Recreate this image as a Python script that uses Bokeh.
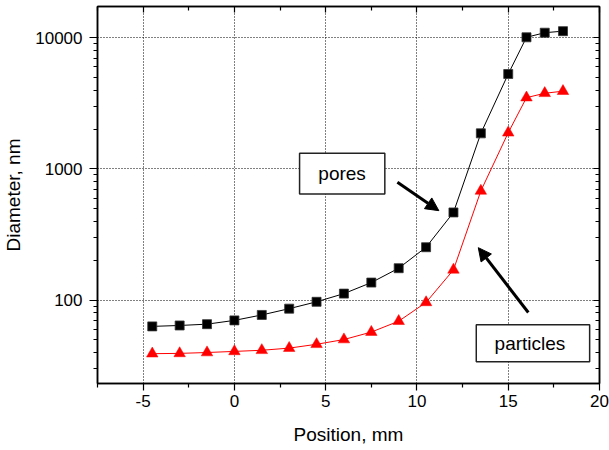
from bokeh.plotting import figure
from bokeh.models import (Range1d, FixedTicker, LinearAxis, LogAxis, Label,
                          BoxAnnotation, Arrow, NormalHead, ColumnDataSource)
from bokeh.embed import file_html
from bokeh.resources import INLINE

# ---- data ----
position = [-4.5, -3, -1.5, 0, 1.5, 3, 4.5, 6, 7.5, 9, 10.5, 12, 13.5, 15, 16, 17, 18]
pores = [63, 64, 65.5, 70, 77, 86, 97, 112, 136, 175, 253, 466, 1870, 5300, 10100, 10950, 11250]
particles = [39, 39.2, 39.8, 40.6, 41.4, 43, 46, 50, 57, 69, 96, 170, 680, 1890, 3500, 3780, 3920]

x_ticks = [-5, 0, 5, 10, 15, 20]
x_tick_labels = ["-5", "0", "5", "10", "15", "20"]
x_minor = [-7.5, -2.5, 2.5, 7.5, 12.5, 17.5]
y_ticks = [100, 1000, 10000]
y_tick_labels = ["100", "1000", "10000"]
y_minor = [30, 40, 50, 60, 70, 80, 90, 200, 300, 400, 500, 600, 700, 800, 900,
           2000, 3000, 4000, 5000, 6000, 7000, 8000, 9000]

FONT = "Liberation Sans"

p = figure(width=609, height=450, y_axis_type="log",
           x_range=Range1d(-7.5, 20), y_range=Range1d(23.1, 17350),
           output_backend="svg", toolbar_location=None,
           min_border_left=95, min_border_right=10, min_border_top=6,
           min_border_bottom=67)
p.outline_line_color = "black"
p.outline_line_width = 1.5
p.background_fill_color = "white"
p.border_fill_color = "white"

xt = FixedTicker(ticks=x_ticks, minor_ticks=x_minor)
yt = FixedTicker(ticks=y_ticks, minor_ticks=y_minor)

xa = p.xaxis[0]
xa.ticker = xt
xa.axis_label = "Position, mm"
xa.major_label_overrides = dict(zip(x_ticks, x_tick_labels))
ya = p.yaxis[0]
ya.ticker = yt
ya.axis_label = "Diameter, nm"
ya.major_label_overrides = dict(zip(y_ticks, y_tick_labels))

for ax in (xa, ya):
    ax.axis_line_color = "black"
    ax.axis_line_width = 1.5
    ax.major_tick_line_color = "black"
    ax.minor_tick_line_color = "black"
    ax.major_tick_line_width = 1.2
    ax.minor_tick_line_width = 1.2
    ax.major_tick_in = 0
    ax.minor_tick_in = 0
    ax.major_label_text_font = FONT
    ax.major_label_text_font_size = "17px"
    ax.major_label_text_color = "black"
    ax.axis_label_text_font = FONT
    ax.axis_label_text_font_size = "19px"
    ax.axis_label_text_font_style = "normal"
    ax.axis_label_text_color = "black"

xa.major_tick_out = 7
xa.minor_tick_out = 4
xa.major_label_standoff = 4
xa.axis_label_standoff = 14
ya.major_tick_out = 8
ya.minor_tick_out = 4
ya.major_label_standoff = 7
ya.axis_label_standoff = 8

top = LinearAxis(ticker=xt)
right = LogAxis(ticker=yt)
for ax in (top, right):
    ax.axis_line_color = "black"
    ax.axis_line_width = 1.5
    ax.major_tick_line_color = "black"
    ax.minor_tick_line_color = "black"
    ax.major_tick_line_width = 1.2
    ax.minor_tick_line_width = 1.2
    ax.major_tick_in = 6
    ax.major_tick_out = 0
    ax.minor_tick_in = 4
    ax.minor_tick_out = 0
    ax.major_label_text_font_size = "0px"
    ax.major_label_text_color = None
    ax.major_label_standoff = 0
p.add_layout(top, "above")
p.add_layout(right, "right")

for g, t in ((p.xgrid[0], xt), (p.ygrid[0], yt)):
    g.ticker = t
    g.grid_line_color = "black"
    g.grid_line_dash = "1 2"
    g.grid_line_width = 1

src = ColumnDataSource(dict(x=position, pores=pores, particles=particles))

p.line("x", "pores", source=src, line_color="black", line_width=1)
p.scatter("x", "pores", source=src, marker="square", size=9,
          fill_color="black", line_color="#333333", line_width=0.8)
p.line("x", "particles", source=src, line_color="red", line_width=1)
p.scatter("x", "particles", source=src, marker="triangle", size=11.5,
          fill_color="red", line_color="red", line_width=0.5)

# annotations
p.add_layout(BoxAnnotation(left=3.57, right=8.24, bottom=644, top=1316,
                           fill_color="white", fill_alpha=1,
                           line_color="#222222", line_width=1.5, line_alpha=1))
p.add_layout(Label(x=5.9, y=921, text="pores", text_align="center",
                   text_baseline="middle", text_font=FONT,
                   text_font_size="19px", text_color="black"))
p.add_layout(BoxAnnotation(left=13.25, right=19.46, bottom=33.8, top=64.8,
                           fill_color="white", fill_alpha=1,
                           line_color="#222222", line_width=1.5, line_alpha=1))
p.add_layout(Label(x=16.19, y=46.8, text="particles", text_align="center",
                   text_baseline="middle", text_font=FONT,
                   text_font_size="19px", text_color="black"))

p.add_layout(Arrow(end=NormalHead(size=13, fill_color="black", line_color="black"),
                   x_start=8.93, y_start=791, x_end=11.2, y_end=481,
                   line_color="black", line_width=3))
p.add_layout(Arrow(end=NormalHead(size=13, fill_color="black", line_color="black"),
                   x_start=16.1, y_start=80.4, x_end=13.36, y_end=251,
                   line_color="black", line_width=3))

open("out.html", "w").write(file_html(p, INLINE))
